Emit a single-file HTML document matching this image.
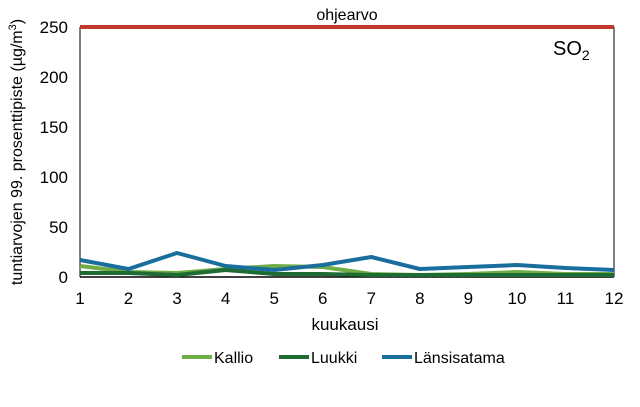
<!DOCTYPE html><html><head><style>body{margin:0;background:#fff}svg{font-family:"Liberation Sans",sans-serif}</style></head><body>
<svg width="640" height="402" viewBox="0 0 640 402">
<line x1="80" y1="27" x2="80" y2="277" stroke="#000" stroke-width="1"/>
<line x1="614" y1="27" x2="614" y2="277" stroke="#000" stroke-width="1"/>
<line x1="80" y1="277" x2="614" y2="277" stroke="#000" stroke-width="1.5"/>
<g font-size="17" fill="#000" text-anchor="end">
<text x="68" y="33">250</text><text x="68" y="83">200</text><text x="68" y="133">150</text><text x="68" y="183">100</text><text x="68" y="233">50</text><text x="68" y="283">0</text>
</g>
<g font-size="17" text-anchor="middle">
<text x="80" y="304">1</text><text x="128.5" y="304">2</text><text x="177" y="304">3</text><text x="225.6" y="304">4</text><text x="274.2" y="304">5</text><text x="322.7" y="304">6</text><text x="371.3" y="304">7</text><text x="419.8" y="304">8</text><text x="468.4" y="304">9</text><text x="517" y="304">10</text><text x="565.5" y="304">11</text><text x="614" y="304">12</text>
<text x="345" y="330">kuukausi</text>
</g>
<text x="347" y="20" font-size="16" text-anchor="middle">ohjearvo</text>
<text transform="translate(22,152) rotate(-90)" font-size="16" text-anchor="middle">tuntiarvojen 99. prosenttipiste (µg/m<tspan font-size="11" dy="-6">3</tspan><tspan dy="6">)</tspan></text>
<text x="553" y="55" font-size="20">SO<tspan font-size="14" dy="5">2</tspan></text>
<line x1="80" y1="27" x2="614" y2="27" stroke="#c0392b" stroke-width="4"/>
<g fill="none" stroke-width="4" stroke-linejoin="round">
<polyline stroke="#70ad47" points="80,266 128.5,272 177,273 225.6,269 274.2,266 322.7,267 371.3,274 419.8,275 468.4,274 517,272 565.5,274 614,274"/>
<polyline stroke="#1e6b34" points="80,273 128.5,273 177,275 225.6,270 274.2,274 322.7,274 371.3,275 419.8,275 468.4,275 517,275 565.5,275 614,275"/>
<polyline stroke="#1a6e9e" points="80,260 128.5,269 177,253 225.6,266 274.2,270 322.7,265 371.3,257 419.8,269 468.4,267 517,265 565.5,268 614,270"/>
</g>
<g font-size="16">
<line x1="182" y1="357" x2="212" y2="357" stroke="#70ad47" stroke-width="4"/><text x="214" y="363">Kallio</text>
<line x1="279" y1="357" x2="309" y2="357" stroke="#1e6b34" stroke-width="4"/><text x="311" y="363">Luukki</text>
<line x1="382" y1="357" x2="412" y2="357" stroke="#1a6e9e" stroke-width="4"/><text x="414" y="363">Länsisatama</text>
</g>
</svg></body></html>
